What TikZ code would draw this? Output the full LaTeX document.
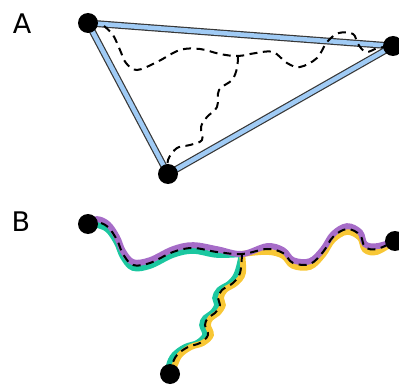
\documentclass[tikz,border=0pt]{standalone}
\usepackage{fontspec}
\setmainfont{DejaVu Sans}
\definecolor{edgeblue}{RGB}{160,203,245}
\definecolor{edgedark}{RGB}{55,55,55}
\definecolor{bpurple}{RGB}{166,108,200}
\definecolor{bgreen}{RGB}{27,199,160}
\definecolor{byellow}{RGB}{248,199,53}
\begin{document}
\begin{tikzpicture}[x=1pt,y=-1pt,
  dot/.style={circle,fill=black,minimum size=20pt,inner sep=0pt},
  edgeA/.style={draw=edgedark,line width=1.2pt,double=edgeblue,double distance=4.5pt},
  dpath/.style={black,line width=2pt,dash pattern=on 8pt off 5.5pt},
  band/.style={line width=6pt,line cap=round},
  lab/.style={font=\fontsize{27}{30}\selectfont,inner sep=0pt}]
\useasboundingbox (0,0) rectangle (399,385);
% labels
\node[lab] (labA) at (22,24) {A};
\node[lab] (labB) at (21,222) {B};
% ---------- A ----------
\coordinate (a1) at (88,23);
\coordinate (a2) at (393,46);
\coordinate (a3) at (168,174);
\coordinate (aj) at (238,56);
\draw[edgeA] (a1) -- (a2);
\draw[edgeA] (a1) -- (a3);
\draw[edgeA] (a3) -- (a2);
\draw[dpath] plot[smooth,tension=0.6] coordinates {(104,26) (113,35) (120,50) (126,63) (137,70) (157,62) (180,50) (200,49) (220,54) (aj) (256,53) (273,52) (287,63) (300,67) (317,58) (327,42) (339,33) (353,34) (358,44) (366,52) (378,48) (a2)};
\draw[dpath] plot[smooth,tension=0.6] coordinates {(aj) (237,68) (232,80) (219,90) (217,107) (207,117) (201,127) (202,140) (190,145) (177,148) (168,160) (a3)};
\node[dot] (A1) at (a1) {};
\node[dot] (A2) at (a2) {};
\node[dot] (A3) at (a3) {};
% ---------- B ----------
\coordinate (b1) at (88,224);
\coordinate (b2) at (395,241);
\coordinate (b3) at (170,374);
\coordinate (bj) at (242,254);
\def\leftseg{(b1) (97,222) (108,227) (117,240) (123,254) (133,265) (150,263) (173,252) (193,248) (217,252) (bj)}
\def\rightseg{(bj) (267,249) (283,253) (293,263) (310,264) (323,252) (333,237) (347,229) (360,235) (365,247) (377,249) (b2)}
\def\mainseg{(b1) (97,222) (108,227) (117,240) (123,254) (133,265) (150,263) (173,252) (193,248) (217,252) (bj) (267,249) (283,253) (293,263) (310,264) (323,252) (333,237) (347,229) (360,235) (365,247) (377,249) (b2)}
\def\branch{(bj) (240,273) (233,283) (222,290) (218,298) (220,305) (215,313) (208,318) (205,325) (208,335) (200,343) (188,347) (177,355) (172,365) (b3)}
\begin{scope}[shift={(-2.8,0)}]
\draw[band,bgreen] plot[smooth,tension=0.6] coordinates \branch;
\end{scope}
\begin{scope}[shift={(2.8,0)}]
\draw[band,byellow] plot[smooth,tension=0.6] coordinates \branch;
\end{scope}
\begin{scope}[shift={(0,2.8)}]
\draw[band,bgreen] plot[smooth,tension=0.6] coordinates \leftseg;
\draw[band,byellow] plot[smooth,tension=0.6] coordinates \rightseg;
\end{scope}
\begin{scope}[shift={(0,-2.8)}]
\draw[band,bpurple] plot[smooth,tension=0.6] coordinates \mainseg;
\end{scope}
\draw[dpath] plot[smooth,tension=0.6] coordinates \mainseg;
\draw[dpath] plot[smooth,tension=0.6] coordinates \branch;
\node[dot] (B1) at (b1) {};
\node[dot] (B2) at (b2) {};
\node[dot] (B3) at (b3) {};
\end{tikzpicture}
\end{document}
